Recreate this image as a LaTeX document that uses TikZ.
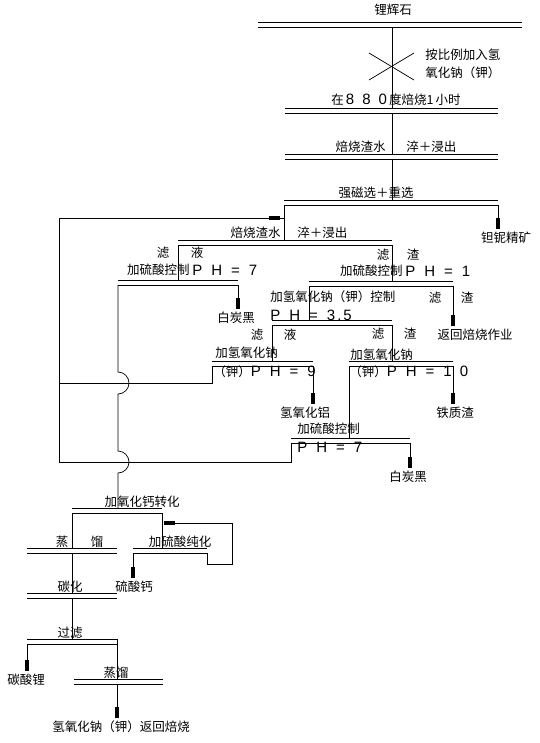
\documentclass[tikz,border=0pt]{standalone}
\usepackage{fontspec}
\usetikzlibrary{arrows.meta}
\newfontfamily\cjk{Noto Sans CJK SC}
\newfontfamily\phfont{Liberation Sans}
\def\dblbar(#1)(#2:#3:#4){\draw (#2,#4) -- (#3,#4); \draw (#2,#4+5) -- (#3,#4+5);
	\coordinate (#1-l) at (#2,#4); \coordinate (#1-r) at (#3,#4);
	\coordinate (#1-bl) at (#2,#4+5); \coordinate (#1-br) at (#3,#4+5);}
\def\phv#1{{\phfont\fontsize{15}{15}\selectfont P\hspace{9pt}H\hspace{9pt}=\hspace{9pt}#1}}
\tikzset{
	lbl/.style={font=\cjk\fontsize{12.5}{13}\selectfont, inner sep=0pt},
	flow/.style={-{Rectangle[length=11pt,width=3.5pt]}, shorten >=3pt},
}

\begin{document}
\begin{tikzpicture}[x=1pt,y=-1pt,line width=0.7pt]
		%%%%% START %%%%%
		\useasboundingbox (0,0) rectangle (539,743);
		
		\coordinate (trunk) at (392,0);
		\dblbar(ore)(258:522:22)
		\node[lbl] (t-ore) at (393,10) {锂辉石};
		
		\coordinate (cross) at (392,67);
		\draw (cross) +(-23,-14) -- +(22,13);
		\draw (cross) +(-23,13) -- +(22,-14);
		\node[lbl,anchor=west] (t-add1) at (425,55) {按比例加入氢};
		\node[lbl,anchor=west] (t-add2) at (425,73) {氧化钠（钾）};
		
		\dblbar(roast)(285:498:108)
		\node[lbl] (t-roast) at (396,100) {在\,{\phfont\fontsize{15}{15}\selectfont 8\hspace{8pt}8\hspace{8pt}0}\,度焙烧1\,小时};
		\draw (ore-bl -| trunk) -- (roast-l -| trunk);
		
		\dblbar(q1)(285:498:154)
		\node[lbl,anchor=east] (t-q1a) at (386,147) {焙烧渣水};
		\node[lbl,anchor=west] (t-q1b) at (406,147) {淬＋浸出};
		\draw (roast-bl -| trunk) -- (q1-l -| trunk);
		
		\dblbar(sep)(284:498:200)
		\node[lbl] (t-sep) at (376,193) {强磁选＋重选};
		\draw (q1-bl -| trunk) -- (sep-l -| trunk);
		\node[lbl] (t-tanb) at (506,238) {钽铌精矿};
		\draw[flow] (sep-br) -- (sep-br |- t-tanb.north);
		
		% second leaching
		\dblbar(q2)(178:392:240)
		\node[lbl,anchor=east] (t-q2a) at (281,233) {焙烧渣水};
		\node[lbl,anchor=west] (t-q2b) at (297,233) {淬＋浸出};
		\draw (sep-bl) -- (q2-l -| sep-bl);
		
		% filtrate side
		\node[lbl] (t-f1) at (163,253) {滤};
		\node[lbl] (t-y1) at (197,253) {液};
		\node[lbl,anchor=east] (t-acid7a) at (190,270) {加硫酸控制};
		\node[lbl,anchor=west] (t-ph7a) at (192,270) {\phv{7}};
		\dblbar(p7a)(118:238:280)
		\draw (q2-bl) -- (p7a-l -| q2-bl);
		\node[lbl] (t-wc1) at (236,318) {白炭黑};
		\draw[flow] (p7a-br) -- (p7a-br |- t-wc1.north);
		
		% residue side
		\node[lbl] (t-f2) at (383,255) {滤};
		\node[lbl] (t-z2) at (413,255) {渣};
		\node[lbl,anchor=east] (t-acid1) at (403,271) {加硫酸控制};
		\node[lbl,anchor=west] (t-ph1) at (405,271) {\phv{1}};
		\dblbar(p1)(309:453:281)
		\draw (q2-br) -- (p1-l -| q2-br);
		\node[lbl] (t-f3) at (435,298) {滤};
		\node[lbl] (t-z3) at (467,298) {渣};
		\node[lbl] (t-back) at (475,335) {返回焙烧作业};
		\draw[flow] (p1-br) -- (p1-br |- t-back.north);
		
		\node[lbl,anchor=west] (t-naoh35) at (270,297) {加氢氧化钠（钾）控制};
		\node[lbl,anchor=west] (t-ph35) at (270,315) {{\phfont\fontsize{15}{15}\selectfont P\hspace{9pt}H\hspace{9pt}=\hspace{9pt}3\hspace{2pt}.\hspace{2pt}5}};
		\dblbar(p35)(272:392:320)
		\draw (p1-bl) -- (p35-l -| p1-bl);
		
		\node[lbl] (t-f4) at (257,335) {滤};
		\node[lbl] (t-y4) at (290,335) {液};
		\node[lbl] (t-f5) at (378,334) {滤};
		\node[lbl] (t-z5) at (410,334) {渣};
		
		\node[lbl,anchor=west] (t-naoh9) at (215,353) {加氢氧化钠};
		\dblbar(p9)(212:313:361)
		\node[lbl,anchor=west] (t-ph9) at (213,372) {（钾）\phv{9}};
		\draw (p35-bl) -- (p9-l -| p35-bl);
		\node[lbl] (t-aloh) at (305,413) {氢氧化铝};
		\draw[flow] (p9-br) -- (p9-br |- t-aloh.north);
		
		\node[lbl,anchor=west] (t-naoh10) at (350,355) {加氢氧化钠};
		\dblbar(p10)(349:453:361)
		\node[lbl,anchor=west] (t-ph10) at (349,372) {（钾）{\phfont\fontsize{15}{15}\selectfont P\hspace{9pt}H\hspace{9pt}=\hspace{9pt}1\hspace{8pt}0}};
		\draw (p35-br) -- (p10-l -| p35-br);
		\node[lbl] (t-fe) at (455,413) {铁质渣};
		\draw[flow] (p10-br) -- (p10-br |- t-fe.north);
		
		\node[lbl,anchor=west] (t-acid7b) at (297,429) {加硫酸控制};
		\dblbar(p7b)(291:410:438)
		\node[lbl,anchor=west] (t-ph7b) at (297,447) {\phv{7}};
		\draw (p10-bl) -- (p7b-l -| p10-bl);
		\node[lbl] (t-wc2) at (408,477) {白炭黑};
		\draw[flow] (p7b-br) -- (p7b-br |- t-wc2.north);
		
		% recycle to leaching
		\coordinate (lp-b) at (59,462);
		\coordinate (lp-m) at (59,383);
		\coordinate (lp-t) at (280,218);
		\draw[flow,shorten >=0pt] (p7b-bl) |- (lp-b) |- (lp-t);
		\draw (lp-t) -- (sep-bl |- lp-t);
		\draw (p9-bl) |- (lp-m);
		
		% lithium line
		\dblbar(conv)(72:162:508)
		\node[lbl] (t-conv) at (142,502) {加氧化钙转化};
		\coordinate (bump1) at (118,372);
		\coordinate (bump2) at (118,451);
		\draw (p7a-bl) -- (bump1) arc (-90:90:11) -- (bump2) arc (-90:90:11) -- (conv-l -| p7a-bl);
		
		\dblbar(dist1)(27:117:548)
		\node[lbl] (t-zh1) at (62,542) {蒸};
		\node[lbl] (t-l1) at (97,542) {馏};
		\draw (conv-bl) -- (dist1-l -| conv-bl);
		
		\dblbar(pur)(133:207:548)
		\node[lbl] (t-pur) at (180,542) {加硫酸纯化};
		\draw (conv-br) -- (pur-l -| conv-br);
		\node[lbl] (t-caso4) at (134,587) {硫酸钙};
		\draw[flow] (pur-bl) -- (pur-bl |- t-caso4.north);
		\coordinate (rc-b) at (232,564);
		\coordinate (rc-t) at (164,523);
		\draw[flow,shorten >=0pt] (pur-br) |- (rc-b) |- (rc-t);
		
		\dblbar(carb)(27:117:593)
		\node[lbl] (t-carb) at (70,587) {碳化};
		\draw (dist1-bl -| conv-bl) -- (carb-l -| conv-bl);
		
		\dblbar(filt)(27:117:639)
		\node[lbl] (t-filt) at (70,633) {过滤};
		\draw (carb-bl -| conv-bl) -- (filt-l -| conv-bl);
		\node[lbl] (t-li) at (26,680) {碳酸锂};
		\draw[flow] (filt-bl) -- (filt-bl |- t-li.north);
		
		\dblbar(dist2)(74:163:679)
		\node[lbl] (t-dist2) at (116,673) {蒸馏};
		\draw (filt-r) -- (dist2-l -| filt-r);
		\coordinate (d2-out) at (dist2-bl -| filt-r);
		\node[lbl] (t-naoh) at (121,727) {氢氧化钠（钾）返回焙烧};
		\draw[flow] (d2-out) -- (d2-out |- t-naoh.north);
		
		%%%%% END %%%%%
	\end{tikzpicture}
\end{document}
